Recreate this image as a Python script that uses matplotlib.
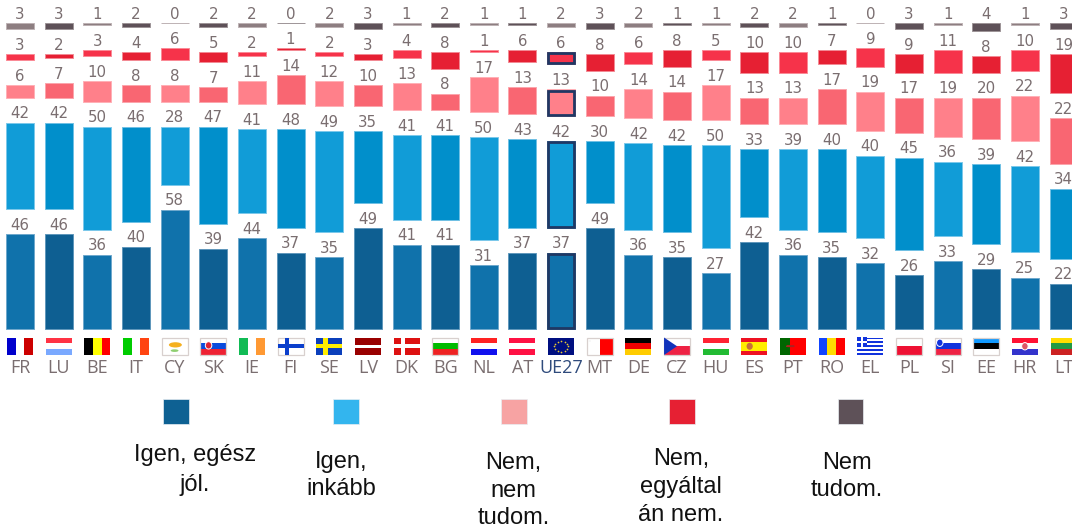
import matplotlib
matplotlib.use('Agg')
import matplotlib.pyplot as plt
from matplotlib.patches import Rectangle, Polygon, Circle, Ellipse
import numpy as np

countries = ['FR', 'LU', 'BE', 'IT', 'CY', 'SK', 'IE', 'FI', 'SE', 'LV', 'DK', 'BG', 'NL', 'AT',
             'UE27', 'MT', 'DE', 'CZ', 'HU', 'ES', 'PT', 'RO', 'EL', 'PL', 'SI', 'EE', 'HR', 'LT']
igen_egesz = [46, 46, 36, 40, 58, 39, 44, 37, 35, 49, 41, 41, 31, 37, 37, 49, 36, 35, 27, 42, 36, 35, 32, 26, 33, 29, 25, 22]
igen_inkabb = [42, 42, 50, 46, 28, 47, 41, 48, 49, 35, 41, 41, 50, 43, 42, 30, 42, 42, 50, 33, 39, 40, 40, 45, 36, 39, 42, 34]
nem_nem = [6, 7, 10, 8, 8, 7, 11, 14, 12, 10, 13, 8, 17, 13, 13, 10, 14, 14, 17, 13, 13, 17, 19, 17, 19, 20, 22, 22]
nem_egyaltalan = [3, 2, 3, 4, 6, 5, 2, 1, 2, 3, 4, 8, 1, 6, 6, 8, 6, 8, 5, 10, 10, 7, 9, 9, 11, 8, 10, 19]
nem_tudom = [3, 3, 1, 2, 0, 2, 2, 0, 2, 3, 1, 2, 1, 1, 2, 3, 2, 1, 1, 2, 2, 1, 0, 3, 1, 4, 1, 3]

series = [igen_egesz, igen_inkabb, nem_nem, nem_egyaltalan, nem_tudom]
# light / dark shade, the countries alternate between them
shades = [('#1072ab', '#0e5f92'), ('#119cd7', '#018fcb'), ('#ff808a', '#f96672'),
          ('#f6334a', '#e62033'), ('#8d7e81', '#5e5158')]
edges = [('#6fa8cc', '#5f97bb'), ('#7cc8ea', '#70c0e4'), ('#ffb0b6', '#fba5ac'),
         ('#fb8a96', '#f28a94'), ('#bdb2b4', '#9d9497')]
legend_colors = ['#0e6193', '#33b5ee', '#f7a3a3', '#e62033', '#5e5158']
legend_labels = ['Igen, egész\njól.', 'Igen,\ninkább', 'Nem,\nnem\ntudom.', 'Nem,\negyáltal\nán nem.', 'Nem\ntudom.']

flags = {
    'FR': ('v', ['#0000cc', '#ffffff', '#cc0000']), 'LU': ('h', ['#ff3344', '#ffffff', '#7aa9ff']),
    'BE': ('v', ['#000000', '#ffff00', '#ff0000']), 'IT': ('v', ['#00cc00', '#ffffff', '#ff4411']),
    'CY': ('h', ['#ffffff']), 'SK': ('h', ['#ffffff', '#0a4bdd', '#ee2233']),
    'IE': ('v', ['#11bb55', '#ffffff', '#ff9933']), 'FI': ('h', ['#ffffff']),
    'SE': ('h', ['#0b3fbb']), 'LV': ('h', ['#990000', '#990000', '#ffffff', '#990000', '#990000']),
    'DK': ('h', ['#dd1111']), 'BG': ('h', ['#ffffff', '#00bb00', '#ee2222']),
    'NL': ('h', ['#ff2222', '#ffffff', '#1111ee']), 'AT': ('h', ['#ff1144', '#ffffff', '#ff1144']),
    'UE27': ('h', ['#000f80']), 'MT': ('v', ['#ffffff', '#ff0000']),
    'DE': ('h', ['#000000', '#ee0000', '#ffcc00']), 'CZ': ('h', ['#ffffff', '#ee2244']),
    'HU': ('h', ['#ff2233', '#ffffff', '#22bb33']), 'ES': ('h', ['#ee1122', '#ffee00', '#ffee00', '#ee1122']),
    'PT': ('v', ['#006600', '#006600', '#ff0000', '#ff0000', '#ff0000']), 'RO': ('v', ['#1144ff', '#ffdd00', '#ff0000']),
    'EL': ('h', ['#1133dd', '#ffffff'] * 4 + ['#1133dd']), 'PL': ('h', ['#ffffff', '#ee1133']),
    'SI': ('h', ['#ffffff', '#1133dd', '#ee2244']), 'EE': ('h', ['#1199ff', '#000000', '#ffffff']),
    'HR': ('h', ['#ff1133', '#ffffff', '#3333cc']), 'LT': ('h', ['#ffdd00', '#229944', '#cc2222']),
}

PX = 2.06        # pixels per percent
STEP = 38.65     # pixels between countries
GAP = 25 / PX    # white space between the groups, room for the labels
W, H = 1072, 526
BASE = 329
text_col = '#7a6e70'


def px_x(p):
    return (p - 20) / STEP


def px_y(p):
    return (BASE - p) / PX


def draw_flag(ax, i, code):
    w = 26 / STEP
    x0 = i - w / 2
    y1 = px_y(337.5)
    h = 17.5 / PX
    y0 = y1 - h
    orient, cols = flags[code]
    n = len(cols)
    for k, c in enumerate(cols):
        if orient == 'v':
            ax.add_patch(Rectangle((x0 + k * w / n, y0), w / n, h, fc=c, lw=0))
        else:
            ax.add_patch(Rectangle((x0, y1 - (k + 1) * h / n), w, h / n, fc=c, lw=0))
    if code in ['CY', 'FI', 'MT', 'PL', 'BG', 'EE', 'CZ', 'SI', 'SK']:
        ax.add_patch(Rectangle((x0, y0), w, h, fc='none', ec='#d8d0ce', lw=0.9))
    cx, cy = x0 + w * 0.36, y0 + h / 2
    if code in ['FI', 'SE', 'DK']:
        c = {'FI': '#0b3fcc', 'SE': '#ffee00', 'DK': '#ffffff'}[code]
        ax.add_patch(Rectangle((x0, cy - h * 0.12), w, h * 0.24, fc=c, lw=0))
        ax.add_patch(Rectangle((cx - w * 0.08, y0), w * 0.16, h, fc=c, lw=0))
    if code == 'CY':
        ax.add_patch(Ellipse((i + w * 0.03, cy + h * 0.08), w * 0.5, h * 0.3, fc='#f5b01f', lw=0))
        ax.add_patch(Ellipse((i, cy - h * 0.25), w * 0.3, h * 0.15, fc='#8fcf70', lw=0))
    if code == 'CZ':
        ax.add_patch(Polygon([(x0, y0), (x0, y1), (i, cy)], fc='#1133bb', lw=0))
    if code == 'UE27':
        t = np.linspace(0, 2 * np.pi, 12, endpoint=False)
        ax.scatter(i + w * 0.27 * np.cos(t), cy + h * 0.3 * np.sin(t), s=1.5, c='#e8c832', lw=0, zorder=3)
    if code == 'EL':
        ch = h * 5 / 9
        ax.add_patch(Rectangle((x0, y1 - ch), w * 0.38, ch, fc='#1133dd', lw=0))
        ax.add_patch(Rectangle((x0, y1 - ch * 0.6), w * 0.38, ch * 0.2, fc='#ffffff', lw=0))
        ax.add_patch(Rectangle((x0 + w * 0.15, y1 - ch), w * 0.08, ch, fc='#ffffff', lw=0))
    if code == 'MT':
        ax.add_patch(Circle((x0 + w * 0.12, y1 - h * 0.2), 0.03, fc='#777777', lw=0))
    if code == 'ES':
        ax.add_patch(Ellipse((x0 + w * 0.32, cy), w * 0.24, h * 0.4, fc='#c8703a', lw=0))
    if code == 'PT':
        ax.add_patch(Circle((x0 + w * 0.4, cy), 0.1, fc='#c9a23a', ec='#aa2222', lw=1, zorder=3))
    if code in ['SK', 'SI', 'HR']:
        ex = {'SK': x0 + w * 0.32, 'SI': x0 + w * 0.2, 'HR': i}[code]
        ey = {'SK': cy + h * 0.05, 'SI': cy + h * 0.2, 'HR': cy}[code]
        ec = {'SK': '#dd2233', 'SI': '#1133dd', 'HR': '#dd5566'}[code]
        ax.add_patch(Ellipse((ex, ey), w * 0.25, h * 0.42, fc=ec, ec='#ffffff', lw=0.7, zorder=3))


fig = plt.figure(figsize=(W / 100, H / 100), dpi=100)
ax = fig.add_axes([0, 0, 1, 1])
ax.set_xlim(px_x(0), px_x(W))
ax.set_ylim(px_y(H), px_y(0))
for name in ['top', 'left', 'right']:
    ax.spines[name].set_visible(False)
ax.spines['bottom'].set_position(('data', 0))
ax.spines['bottom'].set_visible(False)
ax.set_yticks([])

x = np.arange(len(countries))
fill = [[s[i % 2] for i in x] for s in shades]
edge = [[s[i % 2] for i in x] for s in edges]
bottom = np.zeros(len(x))
for k, vals in enumerate(series):
    vals = np.array(vals, dtype=float)
    ax.bar(x, vals, 28 / STEP, bottom=bottom, color=fill[k], edgecolor=edge[k], linewidth=0.7)
    # EU column gets the navy frame, not on the top group
    if k < 4:
        j = countries.index('UE27')
        inset = 1.2 / PX
        ax.add_patch(Rectangle((j - 13 / STEP, bottom[j] + inset), 26 / STEP, vals[j] - 2 * inset,
                               fc='none', ec='#1f3864', lw=2.0, zorder=3))
    for xi, b, v in zip(x, bottom, vals):
        ax.annotate(str(int(v)), (xi, b + v), xytext=(0, 1.0), textcoords='offset points',
                    ha='center', va='bottom', fontsize=10.8, color=text_col, family='DejaVu Sans')
    bottom = bottom + vals + GAP

ax.set_xticks(x)
ax.set_xticklabels(countries, family='Open Sans', fontsize=13, color=text_col)
ax.tick_params(axis='x', length=0, pad=21.5)
ax.get_xticklabels()[countries.index('UE27')].set_color('#2f4b7c')

for i, code in enumerate(countries):
    draw_flag(ax, i, code)

legend_x = [176.3, 345.5, 513.7, 681.7, 850.5]
text_x = [195, 341, 513.5, 681, 847]
baseline = [461, 468, 469, 465, 469]
leading = [30, 27, 27.7, 28, 27]
for lx, tx, ty, c, lab, ld in zip(legend_x, text_x, baseline, legend_colors, legend_labels, leading):
    ax.add_patch(Rectangle((px_x(lx - 13), px_y(423.5)), 26 / STEP, 24.5 / PX, fc=c, ec='#e8eef2', lw=0.5))
    for n, line in enumerate(lab.split('\n')):
        ax.text(px_x(tx), px_y(ty + n * ld), line, ha='center', va='baseline', fontsize=17,
                family='Liberation Sans', color='#111111')

fig.savefig('out.png', dpi=100)
